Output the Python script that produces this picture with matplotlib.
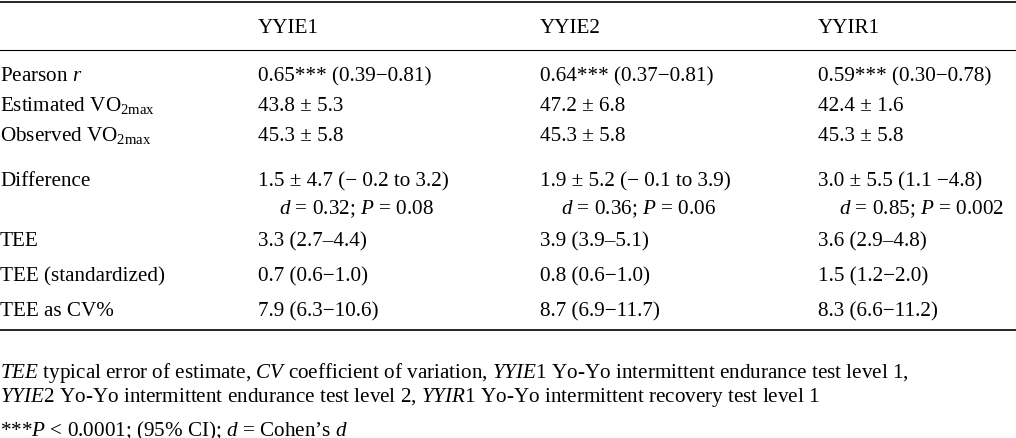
import matplotlib
matplotlib.use("Agg")
import matplotlib.pyplot as plt

plt.rcParams['font.family'] = 'Liberation Serif'
plt.rcParams['mathtext.fontset'] = 'custom'
plt.rcParams['mathtext.rm'] = 'Liberation Serif'
plt.rcParams['mathtext.it'] = 'Liberation Serif:italic'

columns = ["YYIE1", "YYIE2", "YYIR1"]
row_labels = ["Pearson $r$", r"Estimated VO$_{\mathrm{2max}}$", r"Observed VO$_{\mathrm{2max}}$",
              "Difference", "TEE", "TEE (standardized)", "TEE as CV%"]
yyie1 = ["0.65*** (0.39\u22120.81)", "43.8 ± 5.3", "45.3 ± 5.8",
         "1.5 ± 4.7 (\u2212 0.2 to 3.2)\n    $d$ = 0.32; $P$ = 0.08",
         "3.3 (2.7–4.4)", "0.7 (0.6\u22121.0)", "7.9 (6.3\u221210.6)"]
yyie2 = ["0.64*** (0.37\u22120.81)", "47.2 ± 6.8", "45.3 ± 5.8",
         "1.9 ± 5.2 (\u2212 0.1 to 3.9)\n    $d$ = 0.36; $P$ = 0.06",
         "3.9 (3.9–5.1)", "0.8 (0.6\u22121.0)", "8.7 (6.9\u221211.7)"]
yyir1 = ["0.59*** (0.30\u22120.78)", "42.4 ± 1.6", "45.3 ± 5.8",
         "3.0 ± 5.5 (1.1 \u22124.8)\n    $d$ = 0.85; $P$ = 0.002",
         "3.6 (2.9–4.8)", "1.5 (1.2\u22122.0)", "8.3 (6.6\u221211.2)"]
footnotes = [
    r"$\it{TEE}$ typical error of estimate, $\it{CV}$ coefficient of variation, $\it{YYIE1}$ Yo-Yo intermittent endurance test level 1,",
    r"$\it{YYIE2}$ Yo-Yo intermittent endurance test level 2, $\it{YYIR1}$ Yo-Yo intermittent recovery test level 1",
    r"***$P$ < 0.0001; (95% CI); $d$ = Cohen’s $d$",
]

W, H = 1016, 438
fig = plt.figure(figsize=(W/100, H/100), dpi=100)
ax = fig.add_axes([0, 0, 1, 1])
ax.set_xlim(0, W); ax.set_ylim(H, 0); ax.axis('off')

fs = 15.2
off = 6
col_x = [258, 540, 818]
for x, c in zip(col_x, columns):
    ax.text(x, 27 + off, c, fontsize=fs, va='baseline')
row_y = [75, 105, 135, 180, 240, 275, 310]
for i, lab in enumerate(row_labels):
    ax.text(0, row_y[i] + off, lab, fontsize=fs, va='baseline')
    for x, col in zip(col_x, [yyie1, yyie2, yyir1]):
        parts = col[i].split("\n")
        for k, p in enumerate(parts):
            ax.text(x, row_y[i] + off + 28*k, p, fontsize=fs, va='baseline')

for y, lw in [(2, 1.2), (50, 0.8), (330, 1.2)]:
    ax.plot([0, W], [y, y], color='black', lw=lw)

for y, t in zip([372, 396, 430], footnotes):
    ax.text(0, y + off, t, fontsize=fs, va='baseline')

fig.savefig("out.png", dpi=100)
